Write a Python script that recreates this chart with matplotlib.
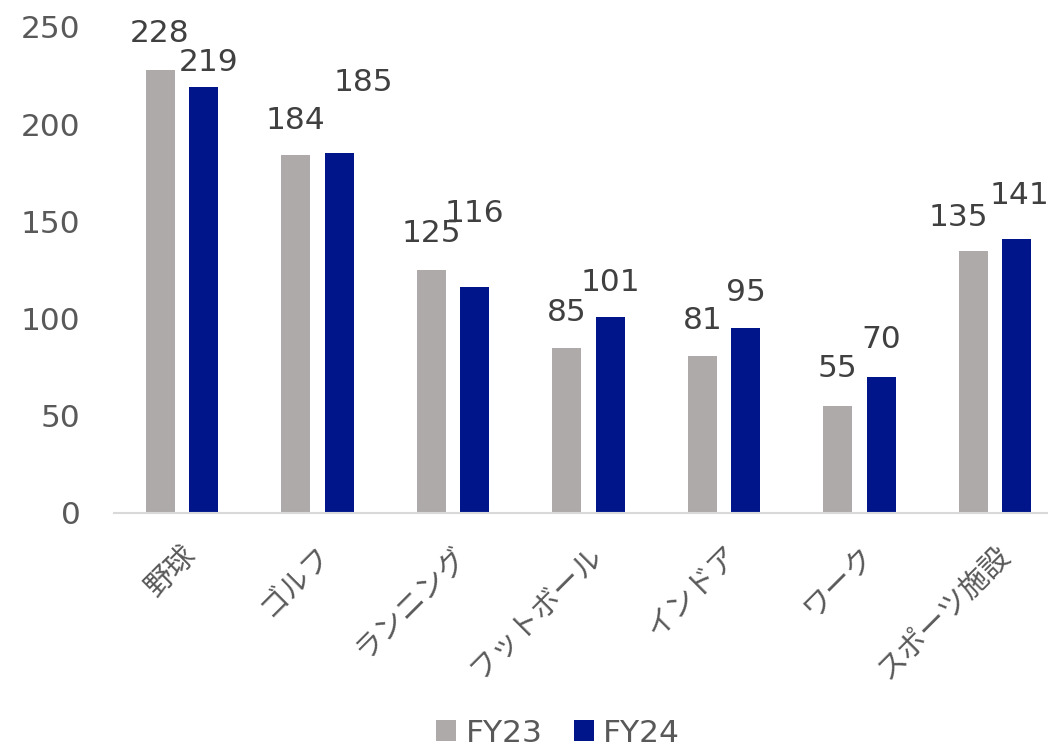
import numpy as np
import matplotlib
matplotlib.use("Agg")
import matplotlib.pyplot as plt
import matplotlib.transforms as mtransforms

plt.rcParams['font.family'] = ['DejaVu Sans', 'Noto Sans CJK JP']

# データ
categories = ['野球', 'ゴルフ', 'ランニング', 'フットボール', 'インドア', 'ワーク', 'スポーツ施設']
fy23 = [228, 184, 125, 85, 81, 55, 135]
fy24 = [219, 185, 116, 101, 95, 70, 141]
series_names = ['FY23', 'FY24']

# 見た目
col23 = '#AEAAAA'
col24 = '#00158A'
label_col = '#404040'
tick_col = '#595959'
fs = 22.5
dpi = 100

# ラベル位置の微調整 (px, 棒の上端からの中心位置)
off23 = [(0, 36), (0, 35), (0, 36), (0, 35), (0, 35), (0, 38), (-15, 33)]
off24 = [(5, 25), (24, 71), (0, 74), (0, 34), (0, 36), (0, 37), (2, 43)]

fig = plt.figure(figsize=(10.48, 7.46), dpi=dpi)
ax = fig.add_axes([114 / 1048, 233 / 746, 949 / 1048, 486 / 746])

x = np.arange(len(categories))
w = 0.214
d = 0.1605
b1 = ax.bar(x - d, fy23, w, color=col23, label=series_names[0])
b2 = ax.bar(x + d, fy24, w, color=col24, label=series_names[1])

px2pt = 72 / dpi
for bars, vals, offs in [(b1, fy23, off23), (b2, fy24, off24)]:
    for bar, v, (dx, dy) in zip(bars, vals, offs):
        ax.annotate(str(v), (bar.get_x() + bar.get_width() / 2, v),
                    xytext=(dx * px2pt, dy * px2pt), textcoords='offset points',
                    ha='center', va='center', fontsize=fs, color=label_col)

ax.set_xlim(-0.5, len(categories) - 0.5)
ax.set_ylim(0, 250)
ax.set_yticks(np.arange(0, 251, 50))
ax.set_xticks(x)
ax.set_xticklabels(categories, rotation=45, ha='right', rotation_mode='anchor',
                   fontsize=21)
shift = mtransforms.ScaledTranslation(-9 / dpi, 0, fig.dpi_scale_trans)
for lbl in ax.get_xticklabels():
    lbl.set_transform(lbl.get_transform() + shift)

for s in ['top', 'right', 'left']:
    ax.spines[s].set_visible(False)
ax.spines['bottom'].set_color('#D9D9D9')
ax.spines['bottom'].set_linewidth(1.5)
ax.tick_params(axis='y', length=0, pad=24, labelsize=fs, labelcolor=tick_col)
ax.tick_params(axis='x', length=0, pad=20, labelcolor=tick_col)

fig.legend(handles=[b1, b2], loc='center', bbox_to_anchor=(558 / 1048, 1 - 733 / 746),
           ncol=2, frameon=False, fontsize=fs, labelcolor=tick_col,
           handlelength=0.65, handleheight=0.65, handletextpad=0.3, columnspacing=1.0,
           borderpad=0)

fig.savefig('out.png', dpi=dpi)
